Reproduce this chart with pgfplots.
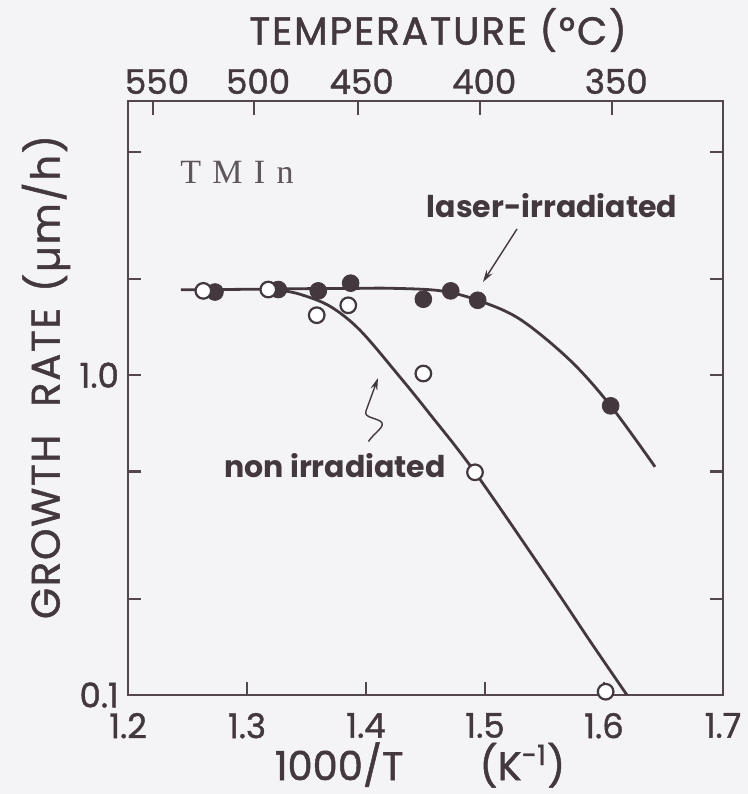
\documentclass[border=0pt]{standalone}
\usepackage{fontspec}
\setmainfont{Poppins}
\newfontfamily\labfont{Poppins}[FakeBold=1.2]
\newfontfamily\serifTM{Liberation Serif}
\usepackage{pgfplots}
\pgfplotsset{compat=1.18}
\usetikzlibrary{arrows.meta}
\definecolor{ink}{RGB}{66,56,62}
\definecolor{axc}{RGB}{84,70,78}
\definecolor{bg}{RGB}{244,243,245}
\begin{document}
\begin{tikzpicture}
\fill[bg] (-64pt,-49.5pt) rectangle (310pt,347.5pt);
\begin{axis}[
  scale only axis, width=297.5pt, height=297pt,
  xmin=1.2, xmax=1.7, ymode=log, ymin=0.1, ymax=7.2,
  xtick={1.2,1.3,1.4,1.5,1.6,1.7},
  xticklabels={1.2,1.3,1.4,1.5,1.6,1.7},
  xtick pos=left, ytick pos=both,
  ytick={0.1,1}, yticklabels={0.1,1.0},
  minor ytick={0.2,0.5,2,5},
  tick align=inside,
  major tick length=6.5pt, minor tick length=6.5pt,
  axis line style={axc, line width=1.1pt},
  every tick/.style={axc, line width=1.1pt},
  tick label style={font=\labfont\fontsize{17}{17}\selectfont, text=ink},
  /pgf/number format/assume math mode=true,
  xticklabel style={yshift=-5.5pt},
  yticklabel style={xshift=-1pt},
  clip=false,
]
\addplot[ink, line width=1.4pt, smooth, tension=0.55] coordinates {
 (1.2445,1.849) (1.3000,1.856) (1.3445,1.864) (1.3900,1.868) (1.4202,1.870)
 (1.4622,1.837) (1.4939,1.715) (1.5294,1.496) (1.5714,1.114) (1.6056,0.802) (1.6429,0.517)};
\addplot[ink, line width=1.4pt, smooth, tension=0.55] coordinates {
 (1.3261,1.849) (1.3445,1.791) (1.3697,1.643) (1.3950,1.382) (1.4286,0.986)
 (1.4538,0.755) (1.4916,0.497) (1.5546,0.227) (1.5882,0.1476) (1.6193,0.1)};
\addplot[only marks, mark=*, mark size=4.2pt, ink, mark options={fill=ink, draw=ink}] coordinates {
 (1.2731,1.82) (1.3263,1.853) (1.3599,1.835) (1.3871,1.94) (1.4482,1.728)
 (1.4712,1.835) (1.4939,1.715) (1.6056,0.802)};
\addplot[only marks, mark=*, mark size=3.9pt, mark options={fill=white, draw=ink, line width=1.1pt}] coordinates {
 (1.2633,1.835) (1.3179,1.853) (1.3586,1.54) (1.3851,1.654) (1.4482,1.012)
 (1.4916,0.497) (1.6014,0.1024)};
\end{axis}
\begin{axis}[
  scale only axis, width=297.5pt, height=297pt,
  xmin=1.2, xmax=1.7, ymin=0, ymax=1,
  axis x line*=top, axis y line=none,
  xtick={1.221,1.306,1.393,1.496,1.607},
  xticklabels={550,500,450,400,350},
  tick align=inside, major tick length=7pt,
  axis line style={axc, line width=1.1pt},
  every tick/.style={axc, line width=1.1pt},
  tick label style={font=\labfont\fontsize{17}{17}\selectfont, text=ink},
  xticklabel style={xshift=2pt},
  /pgf/number format/assume math mode=true,
]
\end{axis}
% labels
\node[text=ink, font=\labfont\fontsize{19.5}{19.5}\selectfont\addfontfeature{LetterSpace=5}] at (155pt,332.5pt) {TEMPERATURE (°C)};
\node[text=ink, font=\labfont\fontsize{20}{20}\selectfont] at (146pt,-35pt) {1000/T\hspace{1.9em}(K\textsuperscript{-1})};
\node[text=ink, font=\labfont\fontsize{20}{20}\selectfont\addfontfeature{LetterSpace=4.5}, rotate=90] at (-41pt,159pt) {GROWTH\hspace{0.7em}RATE\hspace{0.4em}(µm/h)};
% annotations
\node[text=ink!85, font=\serifTM\fontsize{17}{17}\selectfont] at (54.5pt,261.5pt) {T\,\,M\,\,I\,\,n};
\node[text=ink, font=\bfseries\fontsize{15}{15}\selectfont] at (212pt,244.5pt) {laser-irradiated};
\node[text=ink, font=\bfseries\fontsize{15}{15}\selectfont] at (103.5pt,114.5pt) {non irradiated};
\draw[ink, line width=0.7pt, -{Stealth[length=6pt,width=3.5pt]}] (194.5pt,233pt) -- (177.5pt,206.5pt);
\draw[ink, line width=0.7pt, -{Stealth[length=6pt,width=3.5pt]}] (120.2pt,126.7pt) to[out=60,in=-30] (126pt,137pt) to[out=150,in=-110] (119pt,142pt) -- (125pt,158.5pt);
\pgfresetboundingbox
\path[use as bounding box] (-64pt,-49.5pt) rectangle (310pt,347.5pt);
\end{tikzpicture}
\end{document}
